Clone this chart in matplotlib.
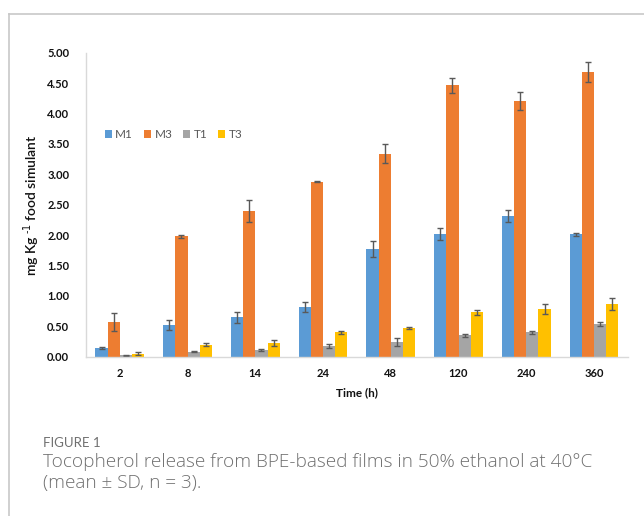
import numpy as np
import matplotlib
matplotlib.use("Agg")
import matplotlib.pyplot as plt
from matplotlib.lines import Line2D

# 生育酚释放数据（平均值 ± SD）
times = ["2", "8", "14", "24", "48", "120", "240", "360"]
series = ["M1", "M3", "T1", "T3"]

m1 = [0.14, 0.52, 0.65, 0.82, 1.77, 2.02, 2.32, 2.01]
m3 = [0.57, 1.98, 2.39, 2.88, 3.34, 4.46, 4.20, 4.68]
t1 = [0.02, 0.08, 0.11, 0.18, 0.24, 0.35, 0.40, 0.54]
t3 = [0.05, 0.20, 0.23, 0.40, 0.47, 0.73, 0.78, 0.87]

m1_sd = [0.02, 0.08, 0.09, 0.08, 0.13, 0.10, 0.10, 0.03]
m3_sd = [0.15, 0.02, 0.18, 0.01, 0.15, 0.13, 0.15, 0.16]
t1_sd = [0.01, 0.01, 0.01, 0.03, 0.07, 0.03, 0.02, 0.03]
t3_sd = [0.02, 0.03, 0.05, 0.03, 0.02, 0.04, 0.08, 0.10]

colors = ["#5B9BD5", "#ED7D31", "#A5A5A5", "#FFC000"]
yticks = [0.0, 0.5, 1.0, 1.5, 2.0, 2.5, 3.0, 3.5, 4.0, 4.5, 5.0]

plt.rcParams['font.family'] = ['Lato', 'DejaVu Sans']

fig = plt.figure(figsize=(6.44, 5.16), dpi=100)
ax = fig.add_axes([0.1335, 0.3087, 0.8415, 0.5893])

x = np.arange(len(times))
w = 0.18
vals = [m1, m3, t1, t3]
sds = [m1_sd, m3_sd, t1_sd, t3_sd]
for i in range(4):
    ax.bar(x + (i - 1.5) * w, vals[i], w, color=colors[i], label=series[i],
           yerr=sds[i], capsize=2.5,
           error_kw=dict(ecolor="#595959", elinewidth=1, capthick=1))

ax.set_xlim(-0.5, len(times) - 0.5)
ax.set_ylim(0, 5)
ax.set_yticks(yticks)
ax.set_yticklabels(["%.2f" % v for v in yticks], fontsize=8, fontweight="bold", color="#111111")
ax.set_xticks(x)
ax.set_xticklabels(times, fontsize=8, fontweight="bold", color="#111111")
ax.tick_params(length=0, pad=8)
ax.tick_params(axis="y", pad=12)

for s in ["top", "right"]:
    ax.spines[s].set_visible(False)
for s in ["left", "bottom"]:
    ax.spines[s].set_color("#D9D9D9")
    ax.spines[s].set_linewidth(1)

ax.set_xlabel("Time (h)", fontsize=8.5, fontweight="bold", color="#111111", labelpad=6)
ax.set_ylabel("mg Kg$^{\\ \\text{-1}}$ food simulant", fontsize=10, fontweight="semibold",
              color="#111111", labelpad=4)

ax.legend(loc="center left", bbox_to_anchor=(0.015, 0.73), ncol=4, frameon=False,
          fontsize=8.5, labelcolor="#595959", handlelength=0.6, handleheight=0.6,
          handletextpad=0.3, columnspacing=0.9)

# 外框线
fig.add_artist(Line2D([9 / 644, 1], [1 - 14 / 516, 1 - 14 / 516], color="#C8C8C8", lw=1.2))
fig.add_artist(Line2D([9 / 644, 9 / 644], [0, 1 - 14 / 516], color="#C8C8C8", lw=1.2))

# 图注
fig.text(43 / 644, 1 - 443 / 516, "FIGURE 1", fontsize=9.5, color="#707070", va="center")
cap = dict(fontsize=13.7, color="#707070", va="center", family=["Open Sans", "DejaVu Sans"],
           fontweight=300)
fig.text(43 / 644, 1 - 462 / 516, "Tocopherol release from BPE-based films in 50% ethanol at 40°C", **cap)
fig.text(43 / 644, 1 - 483 / 516, "(mean \u00b1 SD, n = 3).", **cap)

fig.savefig("out.png", dpi=100)
